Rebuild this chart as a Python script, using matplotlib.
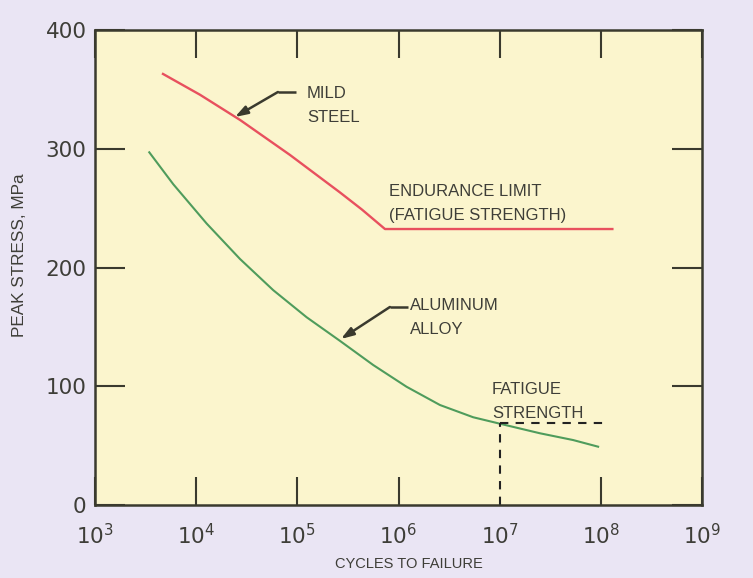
import numpy as np
import matplotlib
matplotlib.use("Agg")
import matplotlib.pyplot as plt

# ---- data ----
steel_cycles = [4.70e3, 1.09e4, 2.71e4, 8.45e4, 2.64e5, 4.35e5, 7.35e5, 1.3e8]
steel_stress = [363, 345.5, 324.3, 294.8, 263.2, 248.8, 232.4, 232.4]

alu_cycles = [3.44e3, 5.94e3, 1.27e4, 2.71e4, 5.78e4, 1.236e5, 2.64e5,
              5.62e5, 1.20e6, 2.57e6, 5.47e6, 1.0e7, 2.50e7, 5.32e7, 9.4e7]
alu_stress = [297.0, 270.1, 237.0, 207.2, 180.9, 158.1, 138.2,
              117.9, 99.6, 84.2, 73.9, 68.5, 60.4, 54.7, 49.1]

fatigue_cycles = 1.0e7
fatigue_stress = 69
fatigue_end = 1.1e8

x_ticks = [1e3, 1e4, 1e5, 1e6, 1e7, 1e8, 1e9]
y_ticks = [0, 100, 200, 300, 400]

# ---- style ----
W, H = 753, 578
fig = plt.figure(figsize=(W / 100, H / 100), dpi=100)
fig.patch.set_facecolor("#eae5f4")

axL, axR = 95 / W, 702 / W
axB, axT = (578 - 505) / H, (578 - 30) / H
ax = fig.add_axes([axL, axB, axR - axL, axT - axB])
ax.set_facecolor("#fbf5cd")

dark = "#3a3a2e"
txt = "#3e3e38"

ax.set_xscale("log")
ax.set_xlim(1e3, 1e9)
ax.set_ylim(0, 400)

ax.plot(steel_cycles, steel_stress, color="#e8505e", lw=1.7, solid_joinstyle="round")
ax.plot(alu_cycles, alu_stress, color="#4f9c5c", lw=1.5, solid_joinstyle="round")

ax.plot([fatigue_cycles, fatigue_end], [fatigue_stress, fatigue_stress],
        color="#222222", lw=1.5, linestyle=(0, (4, 3.5)))
ax.plot([fatigue_cycles, fatigue_cycles], [0, fatigue_stress],
        color="#222222", lw=1.5, linestyle=(0, (4, 3.5)))

for s in ax.spines.values():
    s.set_color(dark)
    s.set_linewidth(1.8)

ax.set_xticks(x_ticks)
ax.xaxis.set_minor_locator(matplotlib.ticker.NullLocator())
ax.set_yticks(y_ticks)
ax.tick_params(axis="x", which="major", direction="in", length=20, width=1.5,
               color=dark, top=True, bottom=True, pad=13, labelsize=15.5,
               labelcolor=txt)
ax.tick_params(axis="y", which="major", direction="in", length=21.5, width=1.5,
               color=dark, left=True, right=True, pad=6, labelsize=15.5,
               labelcolor=txt)
for lab in ax.get_xticklabels() + ax.get_yticklabels():
    lab.set_fontfamily("DejaVu Sans")

for t, loc in zip(ax.xaxis.get_major_ticks(), x_ticks):
    if loc == 1e7:
        t.tick1line.set_visible(False)

ax.set_xlabel("CYCLES TO FAILURE", fontsize=10.5, color=txt,
              fontfamily="Liberation Sans")
ax.xaxis.set_label_coords(0.517, -0.11)
ax.set_ylabel("PEAK STRESS, MPa", fontsize=12.3, color=txt,
              fontfamily="Liberation Sans")
ax.yaxis.set_label_coords(-0.112, 0.526)


def px2data(px, py):
    lx = 3 + (px - 95) / 101.2
    return 10 ** lx, (505 - py) / 1.1875


def label(px, py, s):
    x, y = px2data(px, py)
    ax.text(x, y, s, fontsize=12, color=txt, fontfamily="Liberation Sans",
            ha="left", va="top", linespacing=1.75)


def arrow(start, bend, tip):
    s = px2data(*start)
    b = px2data(*bend)
    t = px2data(*tip)
    ax.plot([s[0], b[0]], [s[1], b[1]], color=dark, lw=1.8, solid_capstyle="butt")
    ax.annotate("", xy=t, xytext=b,
                arrowprops=dict(arrowstyle="-|>,head_length=0.75,head_width=0.25",
                                color=dark, lw=1.8, shrinkA=0, shrinkB=0))


label(307, 86, "MILD\nSTEEL")
arrow((296, 92), (278, 92), (235, 117))
label(389, 184, "ENDURANCE LIMIT\n(FATIGUE STRENGTH)")
label(410, 298, "ALUMINUM\nALLOY")
arrow((408, 307), (390, 307), (341, 339))
label(492, 382, "FATIGUE\nSTRENGTH")

fig.savefig("out.png", dpi=100, facecolor=fig.get_facecolor())
